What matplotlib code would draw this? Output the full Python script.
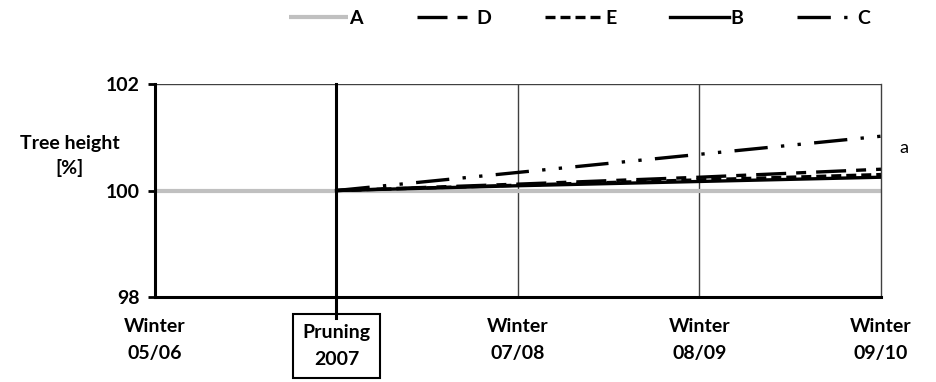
import matplotlib.pyplot as plt
import numpy as np

plt.rcParams['font.family'] = ['Lato', 'DejaVu Sans']

periods = ['Winter\n05/06', 'Pruning\n2007', 'Winter\n07/08', 'Winter\n08/09', 'Winter\n09/10']
xA = [0, 1, 2, 3, 4]
valA = [100, 100, 100, 100, 100]
xT = [1, 2, 3, 4]
valD = [100, 100.12, 100.25, 100.40]
valE = [100, 100.10, 100.20, 100.30]
valB = [100, 100.09, 100.17, 100.25]
valC = [100, 100.34, 100.68, 101.02]

fs = 14

fig = plt.figure(figsize=(9.36, 3.82), dpi=100)
ax = fig.add_axes([0.1656, 0.2225, 0.7756, 0.5575])

ax.plot(xA, valA, color='#c0c0c0', lw=3, label='A', solid_capstyle='butt', zorder=2)
ax.plot(xT, valD, color='black', lw=2.4, ls=(0, (9, 3, 3, 3)), label='D', zorder=3)
ax.plot(xT, valE, color='black', lw=2.4, ls=(0, (3, 1.5)), label='E', zorder=3)
ax.plot(xT, valB, color='black', lw=2.4, ls='-', label='B', zorder=3)
ax.plot(xT, valC, color='black', lw=2.4, ls=(0, (10, 4, 1, 4, 1, 4)), label='C', zorder=3)

ax.set_xlim(0, 4)
ax.set_ylim(98, 102)
ax.set_yticks([98, 100, 102])
ax.set_xticks(range(5))
ax.set_xticklabels([periods[0], '', periods[2], periods[3], periods[4]])
for t in ax.get_xticklabels() + ax.get_yticklabels():
    t.set_fontweight('bold')
    t.set_fontsize(fs)
for t in ax.get_xticklabels():
    t.set_linespacing(1.75)
ax.tick_params(axis='x', length=0, pad=15)
ax.tick_params(axis='y', length=5, width=2, direction='out', pad=6)

# grid and spines
for xv in [2, 3]:
    ax.axvline(xv, color='#404040', lw=1, zorder=1)
ax.axhline(102, color='#404040', lw=1, zorder=1)
ax.spines['top'].set_visible(False)
ax.spines['right'].set_color('#404040')
ax.spines['right'].set_linewidth(1)
ax.spines['left'].set_linewidth(2.2)
ax.spines['bottom'].set_linewidth(2.2)
ax.axvline(1, ymin=-0.1, ymax=1, color='black', lw=2.2, clip_on=False, zorder=4)

ax.text(1, 97.5, periods[1], ha='center', va='top', fontsize=fs, fontweight='bold',
        linespacing=1.75,
        bbox=dict(boxstyle='square,pad=0.5', fc='white', ec='black', lw=1.5))

ax.text(-0.47, 100.65, 'Tree height\n[%]', ha='center', va='center', fontsize=fs,
        fontweight='bold', linespacing=1.45, transform=ax.transData, clip_on=False)
ax.text(4.1, 100.8, 'a', ha='left', va='center', fontsize=13)

ax.legend(loc='upper center', bbox_to_anchor=(0.585, 1.43), ncol=5, frameon=False,
          handlelength=3.0, columnspacing=2.75, handletextpad=0.1,
          prop={'weight': 'bold', 'size': fs})

fig.savefig('out.png', dpi=100)
